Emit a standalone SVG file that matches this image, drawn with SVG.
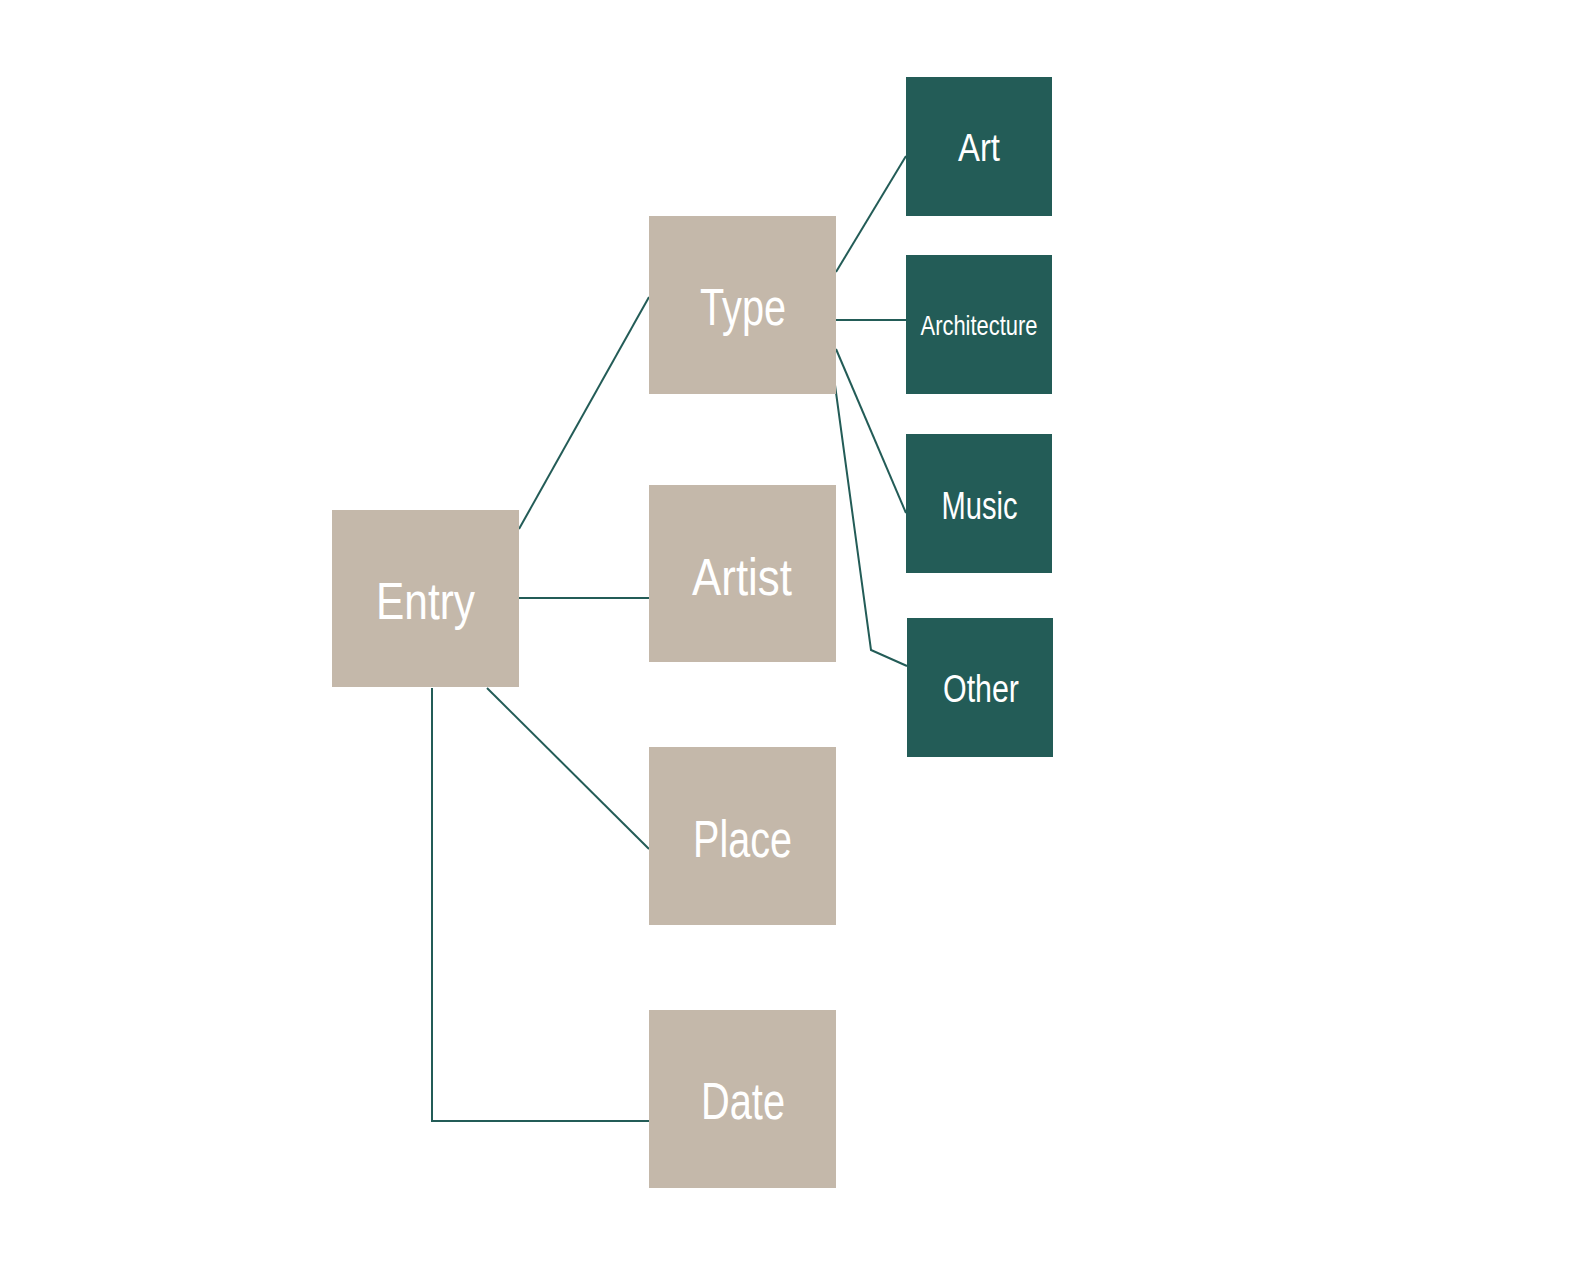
<svg xmlns="http://www.w3.org/2000/svg" width="1571" height="1275" viewBox="0 0 1571 1275">
<style>
.b{fill:#C4B8AA}
.g{fill:#235C57}
.t{fill:#FFFFFF;font-family:"Liberation Sans","DejaVu Sans",sans-serif;text-anchor:middle}
.L{font-size:52px}
.S{font-size:39px}
.c{stroke:#235C57;stroke-width:2;fill:none}
</style>
<rect width="1571" height="1275" fill="#FFFFFF"/>
<g id="connectors">
<line class="c" x1="519" y1="529" x2="649" y2="297"/>
<line class="c" x1="519" y1="598" x2="649" y2="598"/>
<line class="c" x1="487" y1="688" x2="649" y2="849"/>
<polyline class="c" points="432,688 432,1121 649,1121"/>
<line class="c" x1="836" y1="272" x2="906" y2="156"/>
<line class="c" x1="836" y1="320" x2="906" y2="320"/>
<line class="c" x1="836" y1="349" x2="906" y2="513"/>
<polyline class="c" points="835,385 871,650 907,666"/>
</g>
<g id="entry"><rect class="b" x="332" y="510" width="187" height="177"/><text class="t L" x="425.5" y="619" textLength="99" lengthAdjust="spacingAndGlyphs">Entry</text></g>
<g id="type"><rect class="b" x="649" y="216" width="187" height="178"/><text class="t L" x="743" y="325" textLength="86" lengthAdjust="spacingAndGlyphs">Type</text></g>
<g id="artist"><rect class="b" x="649" y="485" width="187" height="177"/><text class="t L" x="742" y="595" textLength="100" lengthAdjust="spacingAndGlyphs">Artist</text></g>
<g id="place"><rect class="b" x="649" y="747" width="187" height="178"/><text class="t L" x="742.5" y="857" textLength="99" lengthAdjust="spacingAndGlyphs">Place</text></g>
<g id="date"><rect class="b" x="649" y="1010" width="187" height="178"/><text class="t L" x="743" y="1119" textLength="84" lengthAdjust="spacingAndGlyphs">Date</text></g>
<g id="art"><rect class="g" x="906" y="77" width="146" height="139"/><text class="t S" x="979" y="161" textLength="42" lengthAdjust="spacingAndGlyphs">Art</text></g>
<g id="architecture"><rect class="g" x="906" y="255" width="146" height="139"/><text class="t" style="font-size:28px" x="979" y="335" textLength="117" lengthAdjust="spacingAndGlyphs">Architecture</text></g>
<g id="music"><rect class="g" x="906" y="434" width="146" height="139"/><text class="t S" x="979.5" y="519" textLength="76" lengthAdjust="spacingAndGlyphs">Music</text></g>
<g id="other"><rect class="g" x="907" y="618" width="146" height="139"/><text class="t S" x="981" y="702" textLength="76" lengthAdjust="spacingAndGlyphs">Other</text></g>
</svg>
